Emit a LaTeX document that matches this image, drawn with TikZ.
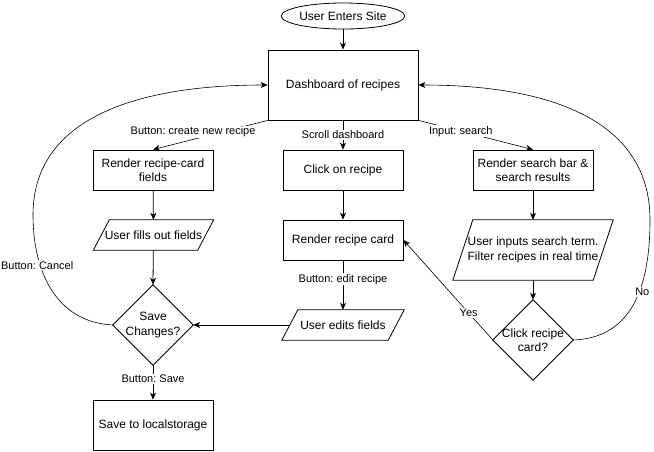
\documentclass[tikz,border=0pt]{standalone}
\usepackage{fontspec}
\setmainfont{Liberation Sans}
\usetikzlibrary{shapes.geometric,arrows.meta}
\frenchspacing
\begin{document}
\begin{tikzpicture}[x=1pt,y=-1pt,
  nodetext/.style={font=\fontsize{12}{14.5}\selectfont, align=center, inner sep=0pt},
  box/.style={nodetext, draw, line width=0.8pt, minimum width=120pt, minimum height=40pt},
  plain/.style={nodetext, minimum width=#1},
  shapeline/.style={line width=0.8pt},
  arr/.style={line width=0.8pt, -{Stealth[length=7pt,width=6pt,inset=2pt]}},
  curve/.style={line width=0.6pt, -{Stealth[length=7pt,width=6pt,inset=2pt]}},
  lab/.style={font=\fontsize{11}{13}\selectfont, fill=white, inner sep=1pt}
]
\useasboundingbox (0,0) rectangle (654,451);

% nodes
\node[nodetext, draw, shape=ellipse, line width=0.8pt, minimum width=100pt, minimum height=26pt] (ue) at (343,16) {User Enters Site};
\node[box, minimum width=150pt, minimum height=70pt] (dash) at (343,85) {Dashboard of recipes};

\node[box] (rcf) at (153,170) {Render recipe-card\\fields};
\node[plain=120pt, minimum height=30pt] (ufo) at (153.5,235) {User fills out fields};
\node[plain=80pt, minimum height=80pt] (sc) at (153,325) {Save\\Changes?};
\node[box, minimum height=50pt] (sls) at (153,425) {Save to localstorage};

\node[box] (cor) at (343,170) {Click on recipe};
\node[box] (rrc) at (343,240) {Render recipe card};
\node[plain=122pt, minimum height=30pt] (uef) at (343,325) {User edits fields};

\node[box] (rsb) at (533,170) {Render search bar \&\\search results};
\node[plain=160pt, minimum height=60pt] (uis) at (533,250) {User inputs search term.\\Filter recipes in real time};
\node[plain=80pt, minimum height=80pt] (crc) at (533,340) {Click recipe\\card?};

% custom outlines
\draw[shapeline] ([xshift=16pt]ufo.north west) -- (ufo.north east) -- ([xshift=-16pt]ufo.south east) -- (ufo.south west) -- cycle;
\draw[shapeline] ([xshift=16pt]uef.north west) -- (uef.north east) -- ([xshift=-16pt]uef.south east) -- (uef.south west) -- cycle;
\draw[shapeline] ([xshift=20pt]uis.north west) -- (uis.north east) -- ([xshift=-20pt]uis.south east) -- (uis.south west) -- cycle;
\draw[shapeline] (sc.north) -- (sc.east) -- (sc.south) -- (sc.west) -- cycle;
\draw[shapeline] (crc.north) -- (crc.east) -- (crc.south) -- (crc.west) -- cycle;

% connectors
\draw[arr] (ue) -- (dash);
\draw[curve] (dash.south west) -- (rcf.north) node[lab, pos=0.65, yshift=7.5pt] {Button: create new recipe};
\draw[arr] (dash.south) -- (cor.north) node[lab, midway] {Scroll dashboard};
\draw[curve] (dash.south east) -- (rsb.north) node[lab, pos=0.37] {Input: search};

\draw[arr] (rcf) -- (ufo);
\draw[arr] (ufo) -- (sc.north);
\draw[arr] (sc.south) -- (sls) node[lab, pos=0.4] {Button: Save};

\draw[arr] (cor) -- (rrc);
\draw[arr] (rrc) -- (uef) node[lab, pos=0.38] {Button: edit recipe};
\draw[arr] ([xshift=8pt]uef.west) -- (sc.east);

\draw[arr] (rsb) -- (uis);
\draw[arr] (uis) -- (crc.north);
\draw[curve] (crc.west) -- (rrc.east) node[lab, pos=0.27] {Yes};

\draw[curve] (sc.west) .. controls (55,322) and (33,270) .. (33,215) node[lab, pos=0.68, xshift=-3pt] {Button: Cancel}
  .. controls (33,112) and (150,85) .. (dash.west);
\draw[curve] (crc.east) .. controls (630,338) and (650,290) .. (650,220) node[lab, pos=0.6, xshift=3pt] {No}
  .. controls (650,115) and (540,85) .. (dash.east);
\end{tikzpicture}
\end{document}
